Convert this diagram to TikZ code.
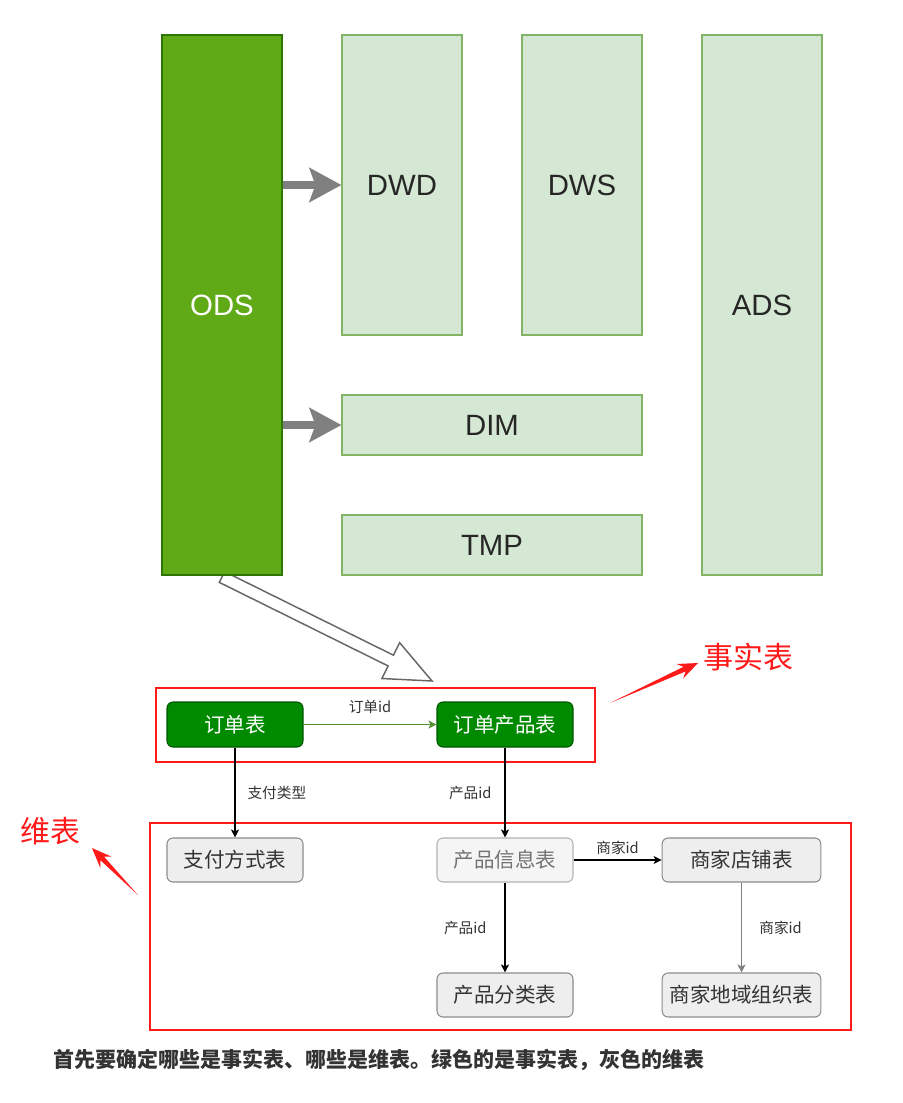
\documentclass[tikz,border=0pt]{standalone}
\usepackage{fontspec}
\setmainfont{Liberation Sans}
\newfontfamily\cjk{Noto Sans CJK SC}
\usepackage{tikz}
\usetikzlibrary{arrows.meta,calc}
\definecolor{odsgreen}{HTML}{60A917}
\definecolor{odsline}{HTML}{2D7600}
\definecolor{layfill}{HTML}{D5E8D4}
\definecolor{layline}{HTML}{82B366}
\definecolor{factfill}{HTML}{008A00}
\definecolor{factline}{HTML}{005700}
\definecolor{dimfill}{HTML}{EEEEEE}
\definecolor{dimline}{HTML}{8C8C8C}
\definecolor{txtgray}{HTML}{333333}
\definecolor{markred}{HTML}{FF1A1A}

\begin{document}
\begin{tikzpicture}[x=0.75pt,y=-0.75pt,
  layer/.style={rectangle,draw=layline,fill=layfill,line width=0.8pt,inner sep=0pt,
    text=black!85,font=\fontsize{22}{26}\selectfont},
  fact/.style={rectangle,rounded corners=4.5pt,draw=factline,fill=factfill,line width=0.8pt,
    inner sep=0pt,minimum width=102pt,minimum height=33.75pt,text=white,font=\cjk\fontsize{15.4}{18}\selectfont},
  dimbox/.style={rectangle,rounded corners=4.5pt,draw=dimline,fill=dimfill,line width=0.8pt,
    inner sep=0pt,minimum width=102pt,minimum height=33pt,text=txtgray,font=\cjk\fontsize{15.4}{18}\selectfont},
  link/.style={line width=0.8pt,-{Stealth[length=6pt,width=6pt,inset=1.5pt]}},
  edgelabel/.style={inner sep=0pt,text=txtgray,font=\cjk\fontsize{11}{13}\selectfont},
  fatarrow/.style={draw=gray,line width=6pt,-{Stealth[length=24pt,width=25.5pt,inset=4.5pt]}},
  redmark/.style={draw=markred,line width=2pt},
  redtext/.style={inner sep=0pt,text=markred,font=\cjk\fontsize{22.5}{26}\selectfont}]
  \useasboundingbox (0,0) rectangle (903,1103);

  \coordinate (hs) at (222,577);
  \coordinate (he) at (432,681);
  \coordinate (hb) at ($(he)!34.5pt!(hs)$);
  \draw[fill=white,draw=black!60,line width=1.1pt]
    ($(hs)!4.5pt!90:(he)$) -- ($(hb)!4.5pt!90:(he)$) -- ($(hb)!15pt!90:(he)$) -- (he)
    -- ($(hb)!15pt!-90:(he)$) -- ($(hb)!4.5pt!-90:(he)$) -- ($(hs)!4.5pt!-90:(he)$) -- cycle;

  \node [layer,draw=odsline,fill=odsgreen,text=white,minimum width=90pt,minimum height=405pt] (ods) at (222,305) {ODS};
  \node [layer,minimum width=90pt,minimum height=225pt] (dwd) at (402,185) {DWD};
  \node [layer,minimum width=90pt,minimum height=225pt] (dws) at (582,185) {DWS};
  \node [layer,minimum width=90pt,minimum height=405pt] (ads) at (762,305) {ADS};
  \node [layer,minimum width=225pt,minimum height=45pt] (dim) at (492,425) {DIM};
  \node [layer,minimum width=225pt,minimum height=45pt] (tmp) at (492,545) {TMP};

  \draw[fatarrow] (ods.east |- dwd.west) -- (dwd.west);
  \draw[fatarrow] (ods.east |- dim.west) -- (dim.west);

  \draw[redmark] (156,688) rectangle (595,762);
  \draw[redmark] (150,823) rectangle (851,1030);

  \node [fact] (order) at (235,724.5) {订单表};
  \node [fact] (orderitem) at (505,724.5) {订单产品表};
  \node [dimbox] (payway) at (235,860) {支付方式表};
  \node [dimbox,fill=black!4,draw=black!30,text=black!55] (product) at (505,860) {产品信息表};
  \node [dimbox,minimum width=119pt] (shop) at (741.5,860) {商家店铺表};
  \node [dimbox] (category) at (505,995) {产品分类表};
  \node [dimbox,minimum width=119pt] (region) at (741.5,995) {商家地域组织表};

  \draw[link,draw=odsline!80] (order) -- node[edgelabel,above=7.5pt] {订单id} (orderitem);
  \draw[link] (order) -- node[edgelabel,right=9pt] {支付类型} (payway);
  \draw[link] (orderitem) -- node[edgelabel,left=9.75pt] {产品id} (product);
  \draw[link] (product) -- node[edgelabel,above=3.5pt] {商家id} (shop);
  \draw[link] (product) -- node[edgelabel,left=13.5pt] {产品id} (category);
  \draw[link,draw=black!50] (shop) -- node[edgelabel,right=13pt] {商家id} (region);

  \node [redtext] (facttext) at (748,657) {事实表};
  \node [redtext] (dimtext) at (51,831.5) {维表};

  \coordinate (ftail) at (610,703);
  \coordinate (ftip) at (698,663);
  \coordinate (fneck) at ($(ftip)!11pt!(ftail)$);
  \coordinate (fbase) at ($(ftip)!15pt!(ftail)$);
  \fill[markred] (ftail) -- ($(fneck)!1.9pt!90:(ftip)$) -- ($(fbase)!6pt!90:(ftip)$) -- (ftip)
    -- ($(fbase)!6pt!-90:(ftip)$) -- ($(fneck)!1.9pt!-90:(ftip)$) -- cycle;

  \coordinate (dtail) at (138,895);
  \coordinate (dtip) at (92,848);
  \coordinate (dneck) at ($(dtip)!11pt!(dtail)$);
  \coordinate (dbase) at ($(dtip)!15pt!(dtail)$);
  \fill[markred] (dtail) -- ($(dneck)!1.9pt!90:(dtip)$) -- ($(dbase)!6pt!90:(dtip)$) -- (dtip)
    -- ($(dbase)!6pt!-90:(dtip)$) -- ($(dneck)!1.9pt!-90:(dtip)$) -- cycle;

  \node [anchor=west,inner sep=0pt,text=txtgray,font=\cjk\bfseries\fontsize{15.75}{18}\selectfont] (note) at (53,1060)
    {首先要确定哪些是事实表、哪些是维表。绿色的是事实表，灰色的维表};
\end{tikzpicture}
\end{document}
